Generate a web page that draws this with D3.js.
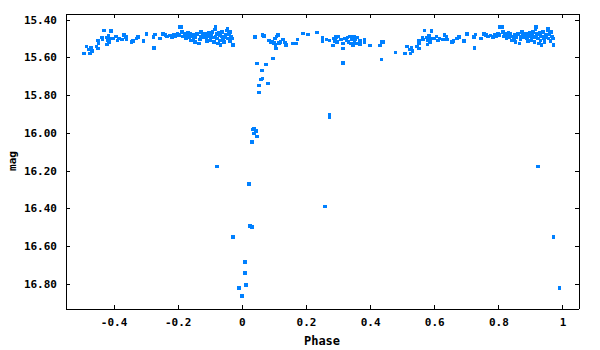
<!DOCTYPE html>
<html><head><meta charset="utf-8">
<script src="https://cdn.jsdelivr.net/npm/d3@7"></script>
<style>
body{margin:0;background:#fff}
svg text{font-family:"DejaVu Sans Mono","Liberation Mono",monospace;font-weight:bold;fill:#000}
</style>
</head><body>
<svg id="chart" width="600" height="350"></svg>
<script>
// Folded light curve: [phase, mag], phase in [0,1)
const primaryEclipse = [
  [0.000,16.863],[0.009,16.683],[0.009,16.742],[0.0125,16.805],[0.022,16.270],[0.025,16.492],
  [0.031,16.498],[0.031,16.047],[0.033,15.983],[0.037,15.978],[0.044,15.989],[0.037,16.004],
  [0.047,16.020],[0.047,15.633],[0.053,15.750],[0.053,15.787],[0.059,15.718],[0.062,15.670],
  [0.065,15.713],[0.075,15.639],[0.081,15.739],[0.097,15.607]
];
const firstHalf = [
  [0.0405,15.489],[0.0405,15.495],[0.065,15.483],[0.0685,15.487],[0.084,15.510],[0.089,15.519],
  [0.095,15.519],[0.100,15.524],[0.103,15.501],[0.108,15.489],[0.112,15.483],[0.105,15.536],
  [0.106,15.554],[0.115,15.524],[0.121,15.519],[0.128,15.506],[0.134,15.522],[0.138,15.536],
  [0.159,15.527],[0.171,15.527],[0.174,15.506],[0.190,15.474],[0.206,15.480],[0.234,15.469],
  [0.252,15.495],[0.252,15.515],[0.259,16.390],[0.264,15.506],[0.274,15.510],[0.274,15.905],
  [0.274,15.918],[0.2835,15.538],[0.287,15.501],[0.290,15.513],[0.294,15.492],[0.297,15.519],
  [0.302,15.489],[0.310,15.506],[0.315,15.527],[0.315,15.554],[0.315,15.630],[0.320,15.501],
  [0.326,15.510],[0.330,15.495],[0.333,15.519],[0.3365,15.489],[0.341,15.527],[0.344,15.506],
  [0.347,15.536],[0.349,15.492],[0.351,15.519],[0.354,15.506],[0.357,15.527],[0.361,15.495],
  [0.368,15.513],[0.368,15.531],[0.383,15.506],[0.383,15.519],[0.399,15.538],[0.430,15.538],
  [0.435,15.519],[0.4405,15.519],[0.436,15.612],[0.479,15.575]
];
// points with phase >= 0.5 are also shown at phase - 1
const secondHalf = [
  [0.508,15.580],[0.526,15.580],[0.524,15.559],[0.515,15.543],[0.529,15.548],[0.532,15.566],
  [0.547,15.542],[0.552,15.554],[0.552,15.510],[0.553,15.524],[0.563,15.495],[0.565,15.506],
  [0.570,15.457],[0.578,15.495],[0.581,15.510],[0.584,15.487],[0.589,15.501],[0.579,15.533],
  [0.586,15.519],[0.591,15.462],[0.599,15.501],[0.607,15.489],[0.612,15.510],[0.617,15.501],
  [0.627,15.506],[0.632,15.483],[0.638,15.492],[0.640,15.506],[0.656,15.519],[0.660,15.513],
  [0.671,15.501],[0.677,15.492],[0.693,15.513],[0.703,15.478],[0.724,15.492],[0.729,15.480],
  [0.726,15.551],[0.745,15.501],[0.755,15.478],[0.762,15.483],[0.767,15.489],[0.776,15.485],
  [0.783,15.492],[0.788,15.482],[0.793,15.489],[0.799,15.474],[0.804,15.483],[0.806,15.439],
  [0.811,15.439],[0.814,15.466],[0.817,15.489],[0.821,15.475],[0.825,15.501],[0.828,15.483],
  [0.832,15.471],[0.835,15.492],[0.838,15.478],[0.842,15.510],[0.845,15.489],[0.851,15.483],
  [0.856,15.492],[0.853,15.519],[0.861,15.478],[0.866,15.527],[0.871,15.489],[0.877,15.478],
  [0.880,15.496],[0.884,15.483],[0.887,15.475],[0.890,15.501],[0.894,15.489],[0.898,15.471],
  [0.901,15.510],[0.905,15.483],[0.908,15.466],[0.911,15.496],[0.913,15.519],[0.916,15.453],
  [0.918,15.439],[0.921,15.478],[0.923,15.501],[0.926,15.527],[0.929,15.471],[0.932,15.510],
  [0.934,15.536],[0.936,15.489],[0.939,15.466],[0.942,15.501],[0.944,15.519],[0.949,15.483],
  [0.953,15.457],[0.955,15.448],[0.957,15.501],[0.960,15.475],[0.963,15.513],[0.965,15.466],
  [0.967,15.489],[0.970,15.501],[0.972,15.536],
  [0.830,15.496],[0.849,15.501],[0.869,15.506],[0.903,15.496],[0.918,15.489],[0.932,15.483],
  [0.946,15.492],[0.873,15.466],[0.892,15.513],
  [0.923,16.179],[0.972,16.551],[0.991,16.821]
];
const xTicks = [-0.4,-0.2,0,0.2,0.4,0.6,0.8,1];
const xTickLabels = ["-0.4","-0.2","0","0.2","0.4","0.6","0.8","1"];
const yTicks = [15.4,15.6,15.8,16.0,16.2,16.4,16.6,16.8];
const yTickLabels = ["15.40","15.60","15.80","16.00","16.20","16.40","16.60","16.80"];

const svg = d3.select("#chart");
const L=65.5, R=578.5, T=13.5, B=308.5;
const x = d3.scaleLinear().domain([-0.55,1.05]).range([L,R]);
const y = d3.scaleLinear().domain([15.368,16.93]).range([T,B]);

const pts = [];
for (const d of primaryEclipse.concat(firstHalf, secondHalf)) {
  pts.push(d);
  if (d[0] >= 0.5) pts.push([d[0]-1, d[1]]);
}

const s = 3.6;
svg.append("g").selectAll("rect").data(pts).join("rect")
  .attr("x", d => x(d[0]) - s/2).attr("y", d => y(d[1]) - s/2)
  .attr("width", s).attr("height", s)
  .attr("fill", "#0080ff").attr("shape-rendering","crispEdges");

function style(g){
  g.attr("font-family", null).attr("font-size", null);
  g.selectAll("path,line").attr("stroke","#000").attr("stroke-width",1).attr("shape-rendering","crispEdges");
  g.selectAll("text").attr("font-size","11px").attr("fill","#000");
}
svg.append("g").attr("transform",`translate(0,${B})`)
  .call(d3.axisBottom(x).tickValues(xTicks).tickFormat((d,i)=>xTickLabels[i]).tickSizeInner(-4).tickSizeOuter(0).tickPadding(10))
  .call(style);
svg.append("g").attr("transform",`translate(0,${T})`)
  .call(d3.axisTop(x).tickValues(xTicks).tickFormat("").tickSizeInner(-4).tickSizeOuter(0))
  .call(style);
svg.append("g").attr("transform",`translate(${L},0)`)
  .call(d3.axisLeft(y).tickValues(yTicks).tickFormat((d,i)=>yTickLabels[i]).tickSizeInner(-4).tickSizeOuter(0).tickPadding(8.5))
  .call(style);
svg.append("g").attr("transform",`translate(${R},0)`)
  .call(d3.axisRight(y).tickValues(yTicks).tickFormat("").tickSizeInner(-4).tickSizeOuter(0))
  .call(style);

svg.append("text").attr("x",(L+R)/2).attr("y",345).attr("text-anchor","middle")
  .attr("font-size","12px").text("Phase");
svg.append("text").attr("transform",`translate(16,${(T+B)/2}) rotate(-90)`).attr("text-anchor","middle")
  .attr("font-size","11px").text("mag");
</script>
</body></html>
